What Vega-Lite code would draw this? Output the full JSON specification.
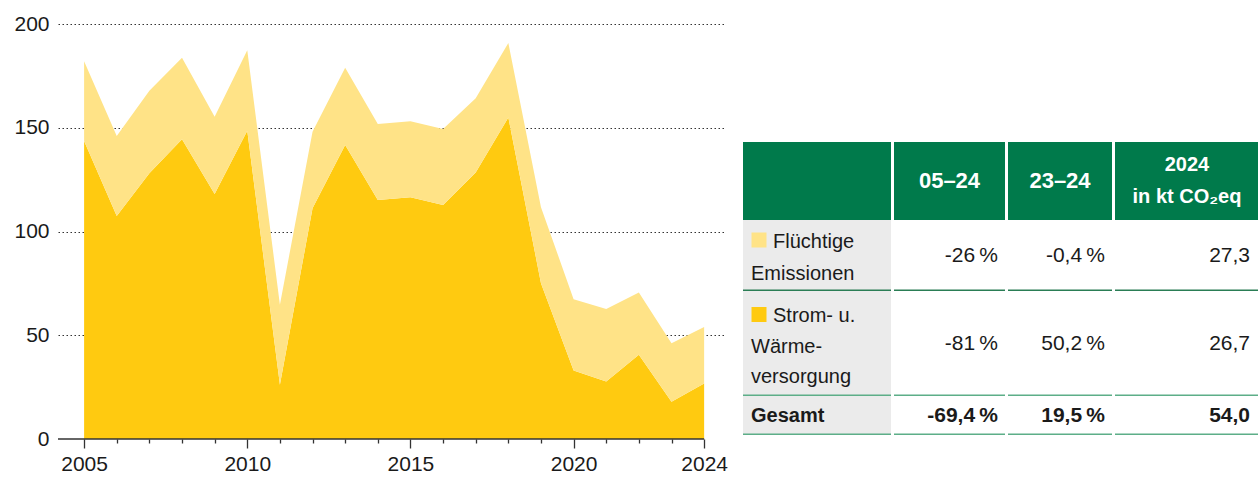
{
  "$schema": "https://vega.github.io/schema/vega-lite/v6.json",
  "padding": {"left": 13, "top": 13, "right": 0, "bottom": 0},
  "config": {
    "font": "Liberation Sans",
    "view": {"stroke": null},
    "text": {"color": "#1a1a1a"}
  },
  "datasets": {
    "emissions": [
      {"year": 2005, "category": "Strom- u. Wärmeversorgung", "value": 143.6}, {"year": 2005, "category": "Flüchtige Emissionen", "value": 38.5},
      {"year": 2006, "category": "Strom- u. Wärmeversorgung", "value": 107.5}, {"year": 2006, "category": "Flüchtige Emissionen", "value": 38.5},
      {"year": 2007, "category": "Strom- u. Wärmeversorgung", "value": 128.1}, {"year": 2007, "category": "Flüchtige Emissionen", "value": 39.7},
      {"year": 2008, "category": "Strom- u. Wärmeversorgung", "value": 144.4}, {"year": 2008, "category": "Flüchtige Emissionen", "value": 39.3},
      {"year": 2009, "category": "Strom- u. Wärmeversorgung", "value": 118.1}, {"year": 2009, "category": "Flüchtige Emissionen", "value": 37.2},
      {"year": 2010, "category": "Strom- u. Wärmeversorgung", "value": 148.6}, {"year": 2010, "category": "Flüchtige Emissionen", "value": 38.8},
      {"year": 2011, "category": "Strom- u. Wärmeversorgung", "value": 26.1}, {"year": 2011, "category": "Flüchtige Emissionen", "value": 38.6},
      {"year": 2012, "category": "Strom- u. Wärmeversorgung", "value": 111.2}, {"year": 2012, "category": "Flüchtige Emissionen", "value": 36.9},
      {"year": 2013, "category": "Strom- u. Wärmeversorgung", "value": 141.7}, {"year": 2013, "category": "Flüchtige Emissionen", "value": 37.2},
      {"year": 2014, "category": "Strom- u. Wärmeversorgung", "value": 115.2}, {"year": 2014, "category": "Flüchtige Emissionen", "value": 36.6},
      {"year": 2015, "category": "Strom- u. Wärmeversorgung", "value": 116.5}, {"year": 2015, "category": "Flüchtige Emissionen", "value": 36.6},
      {"year": 2016, "category": "Strom- u. Wärmeversorgung", "value": 112.8}, {"year": 2016, "category": "Flüchtige Emissionen", "value": 36.6},
      {"year": 2017, "category": "Strom- u. Wärmeversorgung", "value": 128.4}, {"year": 2017, "category": "Flüchtige Emissionen", "value": 35.8},
      {"year": 2018, "category": "Strom- u. Wärmeversorgung", "value": 155.0}, {"year": 2018, "category": "Flüchtige Emissionen", "value": 35.9},
      {"year": 2019, "category": "Strom- u. Wärmeversorgung", "value": 75.1}, {"year": 2019, "category": "Flüchtige Emissionen", "value": 36.6},
      {"year": 2020, "category": "Strom- u. Wärmeversorgung", "value": 33.0}, {"year": 2020, "category": "Flüchtige Emissionen", "value": 34.4},
      {"year": 2021, "category": "Strom- u. Wärmeversorgung", "value": 27.7}, {"year": 2021, "category": "Flüchtige Emissionen", "value": 34.9},
      {"year": 2022, "category": "Strom- u. Wärmeversorgung", "value": 40.6}, {"year": 2022, "category": "Flüchtige Emissionen", "value": 30.0},
      {"year": 2023, "category": "Strom- u. Wärmeversorgung", "value": 18.0}, {"year": 2023, "category": "Flüchtige Emissionen", "value": 28.2},
      {"year": 2024, "category": "Strom- u. Wärmeversorgung", "value": 26.7}, {"year": 2024, "category": "Flüchtige Emissionen", "value": 27.3}
    ],
    "table": [
      {"key": "F", "l1": "Flüchtige", "rest": ["Emissionen"], "p0524": "-26\u2009%", "p2324": "-0,4\u2009%", "kt": "27,3"},
      {"key": "S", "l1": "Strom- u.", "rest": ["Wärme-", "versorgung"], "p0524": "-81\u2009%", "p2324": "50,2\u2009%", "kt": "26,7"},
      {"key": "G", "l1": "Gesamt", "rest": [], "p0524": "-69,4\u2009%", "p2324": "19,5\u2009%", "kt": "54,0"}
    ],
    "header": [
      {"col": "p0524", "h": ["05–24"]},
      {"col": "p2324", "h": ["23–24"]},
      {"col": "kt", "h": ["2024", "in kt CO₂eq"]}
    ]
  },
  "hconcat": [
    {
      "width": 668,
      "height": 415,
      "layer": [
        {
          "data": {"name": "emissions"},
          "mark": {"type": "area", "opacity": 1},
          "encoding": {
            "x": {
              "field": "year", "type": "quantitative",
              "scale": {"domain": [2004.2, 2024.67], "nice": false, "zero": false},
              "axis": {
                "title": null,
                "orient": "bottom",
                "values": [2005, 2010, 2015, 2020, 2024],
                "format": "d",
                "labelOverlap": false,
                "labelFlush": false,
                "domain": false,
                "grid": false,
                "ticks": true,
                "tickColor": "#333333",
                "tickWidth": 1.3,
                "tickSize": 9,
                "labelFontSize": 21,
                "labelColor": "#1a1a1a",
                "labelPadding": 5
              }
            },
            "y": {
              "field": "value", "type": "quantitative", "stack": "zero",
              "scale": {"domain": [0, 200], "nice": false},
              "axis": {
                "title": null,
                "values": [0, 50, 100, 150, 200],
                "grid": true,
                "gridColor": "#333333",
                "gridDash": [1.5, 2.5],
                "gridWidth": 1.2,
                "gridOpacity": {"condition": {"test": "datum.value === 0", "value": 0}, "value": 1},
                "ticks": false,
                "domain": false,
                "labelFontSize": 21,
                "labelPadding": 9,
                "labelColor": "#1a1a1a"
              }
            },
            "color": {
              "field": "category", "type": "nominal",
              "scale": {"domain": ["Strom- u. Wärmeversorgung", "Flüchtige Emissionen"], "range": ["#FFCA10", "#FFE387"]},
              "legend": null
            },
            "order": {"field": "category", "sort": "descending"}
          }
        },
        {
          "data": {"values": [{}]},
          "mark": {"type": "rule", "color": "#333333", "strokeWidth": 1.3},
          "encoding": {
            "x": {
              "datum": 2004.2, "type": "quantitative",
              "axis": {
                "title": null,
                "orient": "bottom",
                "values": [2006, 2007, 2008, 2009, 2011, 2012, 2013, 2014, 2016, 2017, 2018, 2019, 2021, 2022, 2023],
                "labels": false,
                "domain": false,
                "grid": false,
                "ticks": true,
                "tickColor": "#333333",
                "tickWidth": 1.3,
                "tickSize": 4
              }
            },
            "x2": {"datum": 2024},
            "y": {"datum": 0, "type": "quantitative"}
          }
        }
      ],
      "resolve": {"axis": {"x": "independent"}}
    },
    {
      "vconcat": [
        {
          "width": 516, "height": 118,
          "data": {"values": [{}]},
          "mark": {"type": "text"},
          "encoding": {"text": {"value": ""}}
        },
        {
          "hconcat": [
            {"width": 148, "height": 78, "view": {"fill": "#007A4B"}, "data": {"values": [{}]}, "mark": {"type": "text"}, "encoding": {"text": {"value": ""}}},
            {"width": 111, "height": 78, "view": {"fill": "#007A4B"}, "data": {"name": "header"}, "transform": [{"filter": "datum.col === 'p0524'"}],
             "mark": {"type": "text", "color": "white", "fontSize": 22, "fontWeight": "bold", "baseline": "middle", "align": "center"}, "encoding": {"text": {"field": "h"}}},
            {"width": 104, "height": 78, "view": {"fill": "#007A4B"}, "data": {"name": "header"}, "transform": [{"filter": "datum.col === 'p2324'"}],
             "mark": {"type": "text", "color": "white", "fontSize": 22, "fontWeight": "bold", "baseline": "middle", "align": "center"}, "encoding": {"text": {"field": "h"}}},
            {"width": 144, "height": 78, "view": {"fill": "#007A4B"}, "data": {"name": "header"}, "transform": [{"filter": "datum.col === 'kt'"}],
             "mark": {"type": "text", "color": "white", "fontSize": 20, "fontWeight": "bold", "baseline": "middle", "align": "center", "lineHeight": 32, "dy": -16}, "encoding": {"text": {"field": "h"}}}
          ],
          "spacing": 3, "bounds": "flush"
        },
        {
          "hconcat": [
            {"width": 148, "height": 71, "view": {"fill": "#EBEBEB"}, "data": {"name": "table"}, "transform": [{"filter": "datum.key === 'F'"}],
             "layer": [
               {"mark": {"type": "point", "shape": "square", "size": 225, "filled": true, "opacity": 1, "color": "#FFE387", "strokeWidth": 0}, "encoding": {"x": {"value": 16}, "y": {"value": 20}}},
               {"mark": {"type": "text", "fontSize": 20, "align": "left", "baseline": "alphabetic"}, "encoding": {"x": {"value": 30}, "y": {"value": 28}, "text": {"field": "l1"}}},
               {"mark": {"type": "text", "fontSize": 20, "align": "left", "baseline": "alphabetic", "lineHeight": 31}, "encoding": {"x": {"value": 8}, "y": {"value": 60}, "text": {"field": "rest"}}},
               {"mark": {"type": "rule", "color": "#2A7D55", "strokeWidth": 1.6, "yOffset": -0.8}, "encoding": {"x": {"value": 0}, "x2": {"value": "width"}, "y": {"value": "height"}}}
             ]},
            {"width": 111, "height": 71, "data": {"name": "table"}, "transform": [{"filter": "datum.key === 'F'"}],
             "layer": [
               {"mark": {"type": "text", "fontSize": 21, "align": "right", "baseline": "middle", "dx": -7}, "encoding": {"x": {"value": "width"}, "text": {"field": "p0524"}}},
               {"mark": {"type": "rule", "color": "#2A7D55", "strokeWidth": 1.6, "yOffset": -0.8}, "encoding": {"x": {"value": 0}, "x2": {"value": "width"}, "y": {"value": "height"}}}
             ]},
            {"width": 104, "height": 71, "data": {"name": "table"}, "transform": [{"filter": "datum.key === 'F'"}],
             "layer": [
               {"mark": {"type": "text", "fontSize": 21, "align": "right", "baseline": "middle", "dx": -7}, "encoding": {"x": {"value": "width"}, "text": {"field": "p2324"}}},
               {"mark": {"type": "rule", "color": "#2A7D55", "strokeWidth": 1.6, "yOffset": -0.8}, "encoding": {"x": {"value": 0}, "x2": {"value": "width"}, "y": {"value": "height"}}}
             ]},
            {"width": 144, "height": 71, "data": {"name": "table"}, "transform": [{"filter": "datum.key === 'F'"}],
             "layer": [
               {"mark": {"type": "text", "fontSize": 21, "align": "right", "baseline": "middle", "dx": -9}, "encoding": {"x": {"value": "width"}, "text": {"field": "kt"}}},
               {"mark": {"type": "rule", "color": "#2A7D55", "strokeWidth": 1.6, "yOffset": -0.8}, "encoding": {"x": {"value": 0}, "x2": {"value": "width"}, "y": {"value": "height"}}}
             ]}
          ],
          "spacing": 3, "bounds": "flush"
        },
        {
          "hconcat": [
            {"width": 148, "height": 105, "view": {"fill": "#EBEBEB"}, "data": {"name": "table"}, "transform": [{"filter": "datum.key === 'S'"}],
             "layer": [
               {"mark": {"type": "point", "shape": "square", "size": 225, "filled": true, "opacity": 1, "color": "#FFCA10", "strokeWidth": 0}, "encoding": {"x": {"value": 16}, "y": {"value": 23.5}}},
               {"mark": {"type": "text", "fontSize": 20, "align": "left", "baseline": "alphabetic"}, "encoding": {"x": {"value": 30}, "y": {"value": 31}, "text": {"field": "l1"}}},
               {"mark": {"type": "text", "fontSize": 20, "align": "left", "baseline": "alphabetic", "lineHeight": 30}, "encoding": {"x": {"value": 8}, "y": {"value": 62}, "text": {"field": "rest"}}},
               {"mark": {"type": "rule", "color": "#5DAE88", "strokeWidth": 1.6, "yOffset": -0.8}, "encoding": {"x": {"value": 0}, "x2": {"value": "width"}, "y": {"value": "height"}}}
             ]},
            {"width": 111, "height": 105, "data": {"name": "table"}, "transform": [{"filter": "datum.key === 'S'"}],
             "layer": [
               {"mark": {"type": "text", "fontSize": 21, "align": "right", "baseline": "middle", "dx": -7}, "encoding": {"x": {"value": "width"}, "text": {"field": "p0524"}}},
               {"mark": {"type": "rule", "color": "#5DAE88", "strokeWidth": 1.6, "yOffset": -0.8}, "encoding": {"x": {"value": 0}, "x2": {"value": "width"}, "y": {"value": "height"}}}
             ]},
            {"width": 104, "height": 105, "data": {"name": "table"}, "transform": [{"filter": "datum.key === 'S'"}],
             "layer": [
               {"mark": {"type": "text", "fontSize": 21, "align": "right", "baseline": "middle", "dx": -7}, "encoding": {"x": {"value": "width"}, "text": {"field": "p2324"}}},
               {"mark": {"type": "rule", "color": "#5DAE88", "strokeWidth": 1.6, "yOffset": -0.8}, "encoding": {"x": {"value": 0}, "x2": {"value": "width"}, "y": {"value": "height"}}}
             ]},
            {"width": 144, "height": 105, "data": {"name": "table"}, "transform": [{"filter": "datum.key === 'S'"}],
             "layer": [
               {"mark": {"type": "text", "fontSize": 21, "align": "right", "baseline": "middle", "dx": -9}, "encoding": {"x": {"value": "width"}, "text": {"field": "kt"}}},
               {"mark": {"type": "rule", "color": "#5DAE88", "strokeWidth": 1.6, "yOffset": -0.8}, "encoding": {"x": {"value": 0}, "x2": {"value": "width"}, "y": {"value": "height"}}}
             ]}
          ],
          "spacing": 3, "bounds": "flush"
        },
        {
          "hconcat": [
            {"width": 148, "height": 39, "view": {"fill": "#EBEBEB"}, "data": {"name": "table"}, "transform": [{"filter": "datum.key === 'G'"}],
             "layer": [
               {"mark": {"type": "text", "fontSize": 20, "fontWeight": "bold", "align": "left", "baseline": "middle"}, "encoding": {"x": {"value": 8}, "text": {"field": "l1"}}},
               {"mark": {"type": "rule", "color": "#5DAE88", "strokeWidth": 1.6, "yOffset": -0.8}, "encoding": {"x": {"value": 0}, "x2": {"value": "width"}, "y": {"value": "height"}}}
             ]},
            {"width": 111, "height": 39, "data": {"name": "table"}, "transform": [{"filter": "datum.key === 'G'"}],
             "layer": [
               {"mark": {"type": "text", "fontSize": 21, "fontWeight": "bold", "align": "right", "baseline": "middle", "dx": -7}, "encoding": {"x": {"value": "width"}, "text": {"field": "p0524"}}},
               {"mark": {"type": "rule", "color": "#5DAE88", "strokeWidth": 1.6, "yOffset": -0.8}, "encoding": {"x": {"value": 0}, "x2": {"value": "width"}, "y": {"value": "height"}}}
             ]},
            {"width": 104, "height": 39, "data": {"name": "table"}, "transform": [{"filter": "datum.key === 'G'"}],
             "layer": [
               {"mark": {"type": "text", "fontSize": 21, "fontWeight": "bold", "align": "right", "baseline": "middle", "dx": -7}, "encoding": {"x": {"value": "width"}, "text": {"field": "p2324"}}},
               {"mark": {"type": "rule", "color": "#5DAE88", "strokeWidth": 1.6, "yOffset": -0.8}, "encoding": {"x": {"value": 0}, "x2": {"value": "width"}, "y": {"value": "height"}}}
             ]},
            {"width": 144, "height": 39, "data": {"name": "table"}, "transform": [{"filter": "datum.key === 'G'"}],
             "layer": [
               {"mark": {"type": "text", "fontSize": 21, "fontWeight": "bold", "align": "right", "baseline": "middle", "dx": -9}, "encoding": {"x": {"value": "width"}, "text": {"field": "kt"}}},
               {"mark": {"type": "rule", "color": "#5DAE88", "strokeWidth": 1.6, "yOffset": -0.8}, "encoding": {"x": {"value": 0}, "x2": {"value": "width"}, "y": {"value": "height"}}}
             ]}
          ],
          "spacing": 3, "bounds": "flush"
        }
      ],
      "spacing": 0, "bounds": "full"
    }
  ],
  "spacing": 17,
  "bounds": "flush"
}
